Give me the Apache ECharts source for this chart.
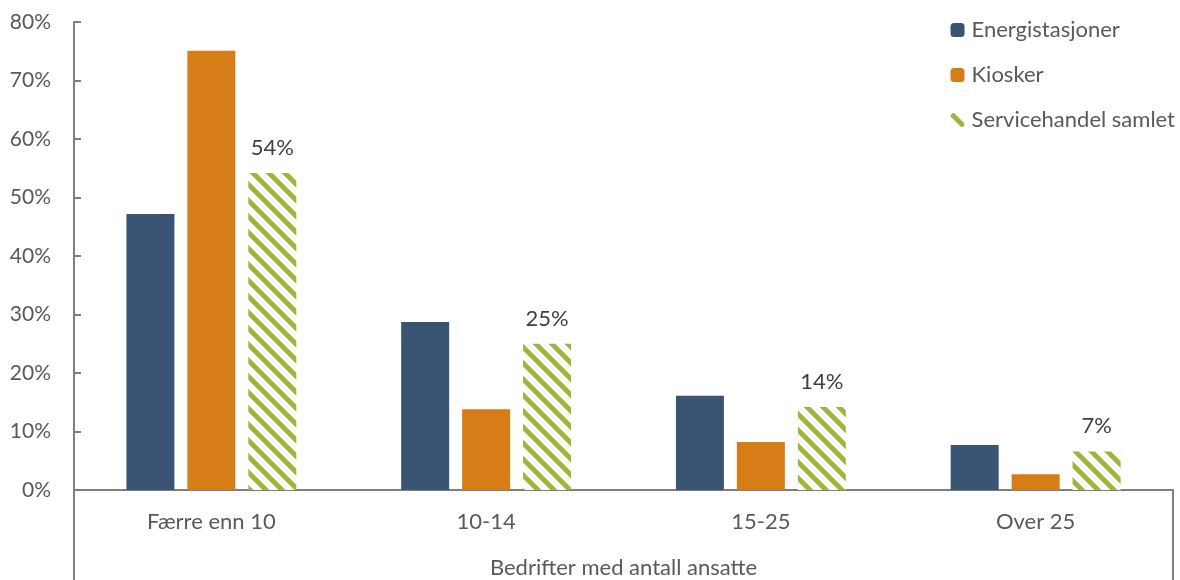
<!DOCTYPE html>
<html>
<head>
<meta charset="utf-8">
<script src="https://cdn.jsdelivr.net/npm/echarts@6/dist/echarts.min.js"></script>
<style>
  html, body { margin: 0; padding: 0; background: #ffffff; }
  #chart { width: 1180px; height: 580px; }
</style>
</head>
<body>
<div id="chart"></div>
<script>
// Andel bedrifter etter antall ansatte (prosent)
const categories = ['Færre enn 10', '10-14', '15-25', 'Over 25'];
const energistasjoner = [47.2, 28.7, 16.1, 7.7];
const kiosker = [75.1, 13.8, 8.2, 2.7];
const servicehandelSamlet = [54.2, 25.0, 14.2, 6.6];
const yTicks = [0, 10, 20, 30, 40, 50, 60, 70, 80];
const axisTitle = 'Bedrifter med antall ansatte';

const FONT = 'Lato, "Open Sans", sans-serif';
const TEXT = '#595959';
const AXIS = '#7f7f7f';

// diagonal stripe fill for the combined series
function stripePattern() {
  const s = 16;
  const c = document.createElement('canvas');
  c.width = s; c.height = s;
  const g = c.getContext('2d');
  g.fillStyle = '#ffffff';
  g.fillRect(0, 0, s, s);
  g.strokeStyle = '#9db53a';
  g.lineWidth = 5;
  for (const off of [-s, 0, s]) {
    g.beginPath();
    g.moveTo(off - 2, -2);
    g.lineTo(off + s + 2, s + 2);
    g.stroke();
  }
  return c;
}

const chart = echarts.init(document.getElementById('chart'), null, { renderer: 'canvas' });

chart.setOption({
  animation: false,
  textStyle: { fontFamily: FONT },
  grid: { left: 74, right: 7, top: 22, bottom: 90, containLabel: false },
  legend: {
    orient: 'vertical',
    right: 0,
    top: 14,
    itemWidth: 14,
    itemHeight: 14,
    itemGap: 23,
    textStyle: { fontFamily: FONT, fontSize: 22, color: TEXT, padding: [0, 0, 0, 2] },
    data: ['Energistasjoner', 'Kiosker', 'Servicehandel samlet']
  },
  xAxis: [
    {
      type: 'category',
      data: categories,
      axisLine: { show: true, lineStyle: { color: AXIS, width: 2 } },
      axisTick: { show: false },
      axisLabel: { color: TEXT, fontSize: 22, fontFamily: FONT, margin: 21 }
    },
    {
      type: 'category',
      position: 'bottom',
      data: [axisTitle],
      axisLine: { show: false },
      axisTick: { show: true, length: 90, lineStyle: { color: AXIS, width: 2 } },
      axisLabel: { color: TEXT, fontSize: 22, fontFamily: FONT, margin: 67 }
    }
  ],
  yAxis: {
    type: 'value',
    min: yTicks[0],
    max: yTicks[yTicks.length - 1],
    interval: 10,
    axisLine: { show: true, lineStyle: { color: AXIS, width: 2 } },
    axisTick: { show: true, inside: true, length: 7, lineStyle: { color: AXIS, width: 2 } },
    splitLine: { show: false },
    axisLabel: { color: TEXT, fontSize: 21, fontFamily: FONT, margin: 23, formatter: '{value}%' }
  },
  series: [
    {
      name: 'Energistasjoner',
      type: 'bar',
      barWidth: 48,
      barGap: '27%',
      itemStyle: { color: '#3a5573' },
      data: energistasjoner
    },
    {
      name: 'Kiosker',
      type: 'bar',
      barWidth: 48,
      barGap: '27%',
      itemStyle: { color: '#d67d17' },
      data: kiosker
    },
    {
      name: 'Servicehandel samlet',
      type: 'bar',
      barWidth: 48,
      barGap: '27%',
      itemStyle: { color: { image: stripePattern(), repeat: 'repeat' } },
      label: {
        show: true,
        position: 'top',
        distance: 14,
        color: '#404040',
        fontSize: 22,
        fontFamily: FONT,
        formatter: p => Math.round(p.value) + '%'
      },
      data: servicehandelSamlet
    }
  ]
});
</script>
</body>
</html>
